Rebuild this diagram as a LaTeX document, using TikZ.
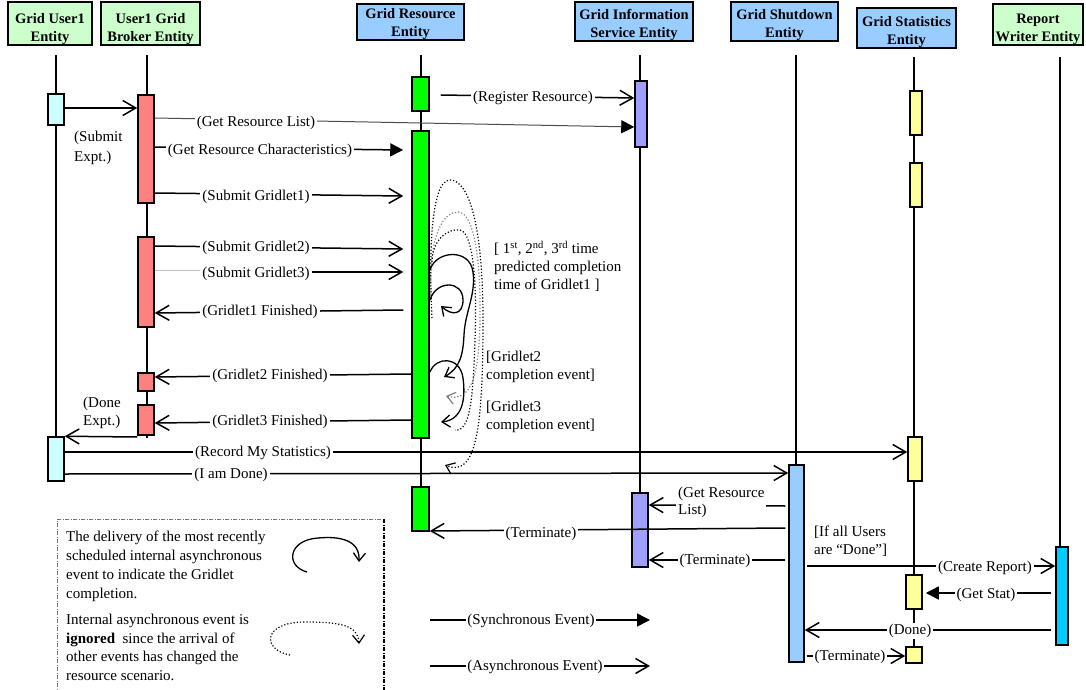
\documentclass[tikz,border=0pt]{standalone}
\usepackage{fontspec}
\setmainfont{Liberation Serif}
\usetikzlibrary{arrows.meta,calc}
\definecolor{hgreen}{HTML}{CCFFCC}
\definecolor{hblue}{HTML}{99CCFF}
\definecolor{ucyan}{HTML}{CCFFFF}
\definecolor{brk}{HTML}{FF8080}
\definecolor{resg}{HTML}{00FF00}
\definecolor{gisc}{HTML}{9F9FFF}
\definecolor{sdb}{HTML}{99CCFF}
\definecolor{sty}{HTML}{FFFF99}
\definecolor{rwc}{HTML}{00CCFF}
\begin{document}
\begin{tikzpicture}[x=1pt,y=-1pt,
 hdr/.style={draw, line width=2pt, inner sep=0pt, align=center, font=\bfseries\fontsize{14.5}{18}\selectfont},
 act/.style={draw, line width=1.5pt, inner sep=0pt},
 life/.style={line width=1.5pt},
 msg/.style={line width=1.5pt},
 async/.style={msg, -{Straight Barb[length=13pt,width=15pt,line width=1.5pt]}},
 sync/.style={msg, -{Triangle[length=13pt,width=13pt,color=black]}},
 lbl/.style={fill=white, inner xsep=2pt, inner ysep=1pt, font=\fontsize{15}{18}\selectfont},
 note/.style={align=left, inner sep=0pt, font=\fontsize{15}{18}\selectfont},
 loopa/.style={line width=1.3pt, -{Straight Barb[length=8pt,width=12pt,line width=1.3pt]}},
 loopd/.style={dotted, line width=1.2pt, -{Straight Barb[length=8pt,width=12pt,line width=1.2pt]}},
]
\useasboundingbox (0,0) rectangle (1086,690);

% ---------- headers
\node[hdr, fill=hgreen, minimum width=84pt, minimum height=39pt] (hU) at (50,23.5) {\rule{0pt}{22pt}Grid User1\\Entity};
\node[hdr, fill=hgreen, minimum width=99pt, minimum height=39pt] (hB) at (150.5,23.5) {\rule{0pt}{22pt}User1 Grid\\Broker Entity};
\node[hdr, fill=hblue, minimum width=107pt, minimum height=36pt] (hR) at (410.5,22) {\rule{0pt}{14pt}Grid Resource\\Entity};
\node[hdr, fill=hblue, minimum width=118pt, minimum height=37pt] (hG) at (634,21.5) {\rule{0pt}{17pt}Grid Information\\Service Entity};
\node[hdr, fill=hblue, minimum width=107pt, minimum height=37pt] (hS) at (784.5,21.5) {\rule{0pt}{17pt}Grid Shutdown\\Entity};
\node[hdr, fill=hblue, minimum width=99pt, minimum height=36pt] (hT) at (906.5,28) {\rule{0pt}{18pt}Grid Statistics\\Entity};
\node[hdr, fill=hgreen, minimum width=90pt, minimum height=39pt] (hW) at (1038,24.5) {\rule{0pt}{20pt}Report\\Writer Entity};

% ---------- lifeline tops
\coordinate (uTop) at (56,55);
\coordinate (bTop) at (147,55);
\coordinate (rTop) at (421,55);
\coordinate (gTop) at (640,55);
\coordinate (sTop) at (796,55);
\coordinate (tTop) at (914,57);
\coordinate (wTop) at (1060,57);
\coordinate (bEnd) at (147,438);

% ---------- activation boxes (positions)
\path
 (56,109.5) coordinate (pu1) (56,459) coordinate (pu2)
 (146,149) coordinate (pb1) (146,282) coordinate (pb2) (146,382) coordinate (pb3) (146,420) coordinate (pb4)
 (420.5,94) coordinate (pr1) (420.5,284.5) coordinate (pr2) (420.5,509) coordinate (pr3)
 (641,114) coordinate (pg1) (640,530) coordinate (pg2)
 (796.5,563.5) coordinate (ps1)
 (916,113) coordinate (pt1) (916,185) coordinate (pt2) (915,459) coordinate (pt3) (914,592) coordinate (pt4) (914,655) coordinate (pt5)
 (1062,596) coordinate (pw1);

% lifelines
\draw[life] (uTop) -- (uTop |- 0,481);
\draw[life] (bTop) -- (bEnd);
\draw[life] (rTop) -- (rTop |- 0,531);
\draw[life] (gTop) -- (gTop |- 0,568);
\draw[life] (sTop) -- (sTop |- 0,465);
\draw[life] (tTop) -- (tTop |- 0,663);
\draw[life] (wTop) -- (wTop |- 0,547);

\node[act, fill=ucyan, minimum width=16pt, minimum height=31pt] (u1) at (pu1) {};
\node[act, fill=ucyan, minimum width=16pt, minimum height=44pt] (u2) at (pu2) {};
\node[act, fill=brk, minimum width=16pt, minimum height=108pt] (b1) at (pb1) {};
\node[act, fill=brk, minimum width=16pt, minimum height=90pt] (b2) at (pb2) {};
\node[act, fill=brk, minimum width=16pt, minimum height=18pt] (b3) at (pb3) {};
\node[act, fill=brk, minimum width=16pt, minimum height=30pt] (b4) at (pb4) {};
\node[act, fill=resg, minimum width=17pt, minimum height=34pt] (r1) at (pr1) {};
\node[act, fill=resg, minimum width=17pt, minimum height=307pt] (r2) at (pr2) {};
\node[act, fill=resg, minimum width=17pt, minimum height=44pt] (r3) at (pr3) {};
\node[act, fill=gisc, minimum width=12pt, minimum height=66pt] (g1) at (pg1) {};
\node[act, fill=gisc, minimum width=16pt, minimum height=74pt] (g2) at (pg2) {};
\node[act, fill=sdb, minimum width=15pt, minimum height=197pt] (s1) at (ps1) {};
\node[act, fill=sty, minimum width=12pt, minimum height=44pt] (t1) at (pt1) {};
\node[act, fill=sty, minimum width=12pt, minimum height=44pt] (t2) at (pt2) {};
\node[act, fill=sty, minimum width=14pt, minimum height=44pt] (t3) at (pt3) {};
\node[act, fill=sty, minimum width=16pt, minimum height=34pt] (t4) at (pt4) {};
\node[act, fill=sty, minimum width=16pt, minimum height=16pt] (t5) at (pt5) {};
\node[act, fill=rwc, minimum width=12pt, minimum height=98pt] (w1) at (pw1) {};

% ---------- messages
\draw[async] (u1.east |- 0,108) -- (b1.west |- 0,108);
\node[note, anchor=west, font=\fontsize{15}{20}\selectfont] (nSub) at (74,148) {(Submit\\Expt.)};

\draw[async] ($(r1.east |- 0,95)+(11,0)$) -- (g1.west |- 0,98);
\node[lbl] (lReg) at (533,98) {(Register Resource)};

\draw[sync, line width=1pt, black!70] (b1.east |- 0,118) -- (g1.west |- 0,127);
\node[lbl] (lGRL) at (256,123) {(Get Resource List)};

\draw[sync] (b1.east |- 0,147) -- ($(r2.west |- 0,150)+(-8,0)$);
\node[lbl] (lGRC) at (260,151) {(Get Resource Characteristics)};

\draw[async] (b1.east |- 0,193) -- ($(r2.west |- 0,196)+(-8,0)$);
\node[lbl] (lSG1) at (256,197) {(Submit Gridlet1)};

\draw[async] (b2.east |- 0,246) -- ($(r2.west |- 0,249)+(-8,0)$);
\node[lbl] (lSG2) at (256,248) {(Submit Gridlet2)};

\node[lbl] (lSG3) at (256,274) {(Submit Gridlet3)};
\draw[black!25, line width=1pt] (b2.east |- 0,270) -- (lSG3.west |- 0,270);
\draw[async] (lSG3.east |- 0,272) -- ($(r2.west |- 0,272)+(-8,0)$);

\draw[async] ($(r2.west |- 0,310)+(-8,0)$) -- (b2.east |- 0,313);
\node[lbl] (lGF1) at (260,312) {(Gridlet1 Finished)};

\draw[async] (r2.west |- 0,374) -- (b3.east |- 0,377);
\node[lbl] (lGF2) at (270,376) {(Gridlet2 Finished)};

\draw[async] (r2.west |- 0,420) -- (b4.east |- 0,423);
\node[lbl] (lGF3) at (270,422) {(Gridlet3 Finished)};

\draw[async] (b4.west |- 0,437) -- (u2.north east);
\node[note, anchor=west] (nDone) at (83,413) {(Done\\Expt.)};

\draw[async] (u2.east |- 0,452) -- (t3.west |- 0,452);
\node[lbl] (lRec) at (263,453) {(Record My Statistics)};

\draw[async] (u2.east |- 0,474) -- (s1.west |- 0,473);
\node[lbl] (lIam) at (231,475) {(I am Done)};

\draw[async] ($(s1.west |- 0,506)+(-3,0)$) -- (g2.east |- 0,505);
\node[note, fill=white, anchor=west, inner sep=2pt, font=\fontsize{15}{17}\selectfont] (lGRL2) at (676,502) {(Get Resource\\List)};

\draw[async] ($(s1.west |- 0,528)+(-3,0)$) -- (r3.east |- 0,531);
\node[lbl] (lTer1) at (541,534) {(Terminate)};

\draw[async] ($(s1.west |- 0,560)+(-3,0)$) -- (g2.east |- 0,560);
\node[lbl] (lTer2) at (715,561) {(Terminate)};

\node[note, anchor=west] (nIf) at (814,541) {[If all Users\\are “Done”]};

\draw[async] ($(s1.east |- 0,566)+(2,0)$) -- (w1.west |- 0,566);
\node[lbl] (lCR) at (985,568) {(Create Report)};

\draw[sync] ($(w1.west |- 0,593)+(-4,0)$) -- ($(t4.east |- 0,593)+(3,0)$);
\node[lbl] (lGS) at (986,595) {(Get Stat)};

\draw[async] ($(w1.west |- 0,630)+(-4,0)$) -- (s1.east |- 0,630);
\node[lbl] (lDone) at (910,631) {(Done)};

\draw[async] ($(s1.east |- 0,656)+(2,0)$) -- (t5.west |- 0,656);
\node[lbl] (lTer3) at (850,657) {(Terminate)};

% ---------- internal events on resource
\draw[loopd] (432,318) .. controls (429,260) and (430,180) .. (450,180) .. controls (470,180) and (483,230) .. (483,320) .. controls (483,430) and (476,478) .. (445,465);
\draw[loopd, gray] (431,300) .. controls (428,230) and (445,212) .. (458,212) .. controls (474,212) and (481,260) .. (480,320) .. controls (479,380) and (470,402) .. (446,396);
\draw[dotted, line width=1.2pt] (432,262) .. controls (432,240) and (448,228) .. (460,230) .. controls (474,232) and (477,290) .. (475,340) .. controls (473,400) and (470,432) .. (455,430);
\draw[loopa] (430,300) .. controls (436,280) and (463,280) .. (463,300) .. controls (463,315) and (452,316) .. (441,306);
\draw[loopa] (430,270) .. controls (436,250) and (470,248) .. (473,272) .. controls (476,295) and (465,312) .. (464,335) .. controls (463,355) and (460,368) .. (444,377);
\draw[loopa] (430,372) .. controls (436,356) and (460,356) .. (463,378) .. controls (466,400) and (462,420) .. (441,422);

\node[note, anchor=west] (nPred) at (494,266) {[ 1\textsuperscript{st}, 2\textsuperscript{nd}, 3\textsuperscript{rd} time\\predicted completion\\time of Gridlet1 ]};
\node[note, anchor=west, font=\fontsize{15}{17.5}\selectfont] (nG2) at (486,367) {[Gridlet2\\completion event]};
\node[note, anchor=west, font=\fontsize{15}{17.5}\selectfont] (nG3) at (486,417) {[Gridlet3\\completion event]};

% ---------- legend
\draw[black!55, line width=0.8pt, dash pattern=on 4pt off 1.5pt on 1pt off 1.5pt] (57,695) -- (57,519) -- (384,519);
\draw[line width=1.3pt, dash pattern=on 4pt off 1.5pt on 1pt off 1.5pt] (384,519) -- (384,695);
\node[note, anchor=north west, font=\fontsize{15}{19}\selectfont] (legA) at (66,531) {The delivery of the most recently\\scheduled internal asynchronous\\event to indicate the Gridlet\\completion.};
\node[note, anchor=north west, font=\fontsize{15}{18.5}\selectfont] (legB) at (66,614) {Internal asynchronous event is\\\textbf{ignored}~ since the arrival of\\other events has changed the\\resource scenario.};
\draw[loopa] (307,572) .. controls (285,566) and (288,540) .. (318,538) .. controls (340,536) and (360,540) .. (359,562);
\draw[loopd] (290,655) .. controls (262,650) and (262,622) .. (305,622) .. controls (340,622) and (358,625) .. (359,644);

\coordinate (sy1) at (430,620); \coordinate (sy2) at (650,620);
\draw[sync] (sy1) -- (sy2);
\node[lbl, inner xsep=1pt] (lSync) at (531,621) {(Synchronous Event)};
\coordinate (as1) at (430,666); \coordinate (as2) at (650,666);
\draw[async] (as1) -- (as2);
\node[lbl, inner xsep=1pt] (lAsync) at (535,667) {(Asynchronous Event)};
\end{tikzpicture}
\end{document}
